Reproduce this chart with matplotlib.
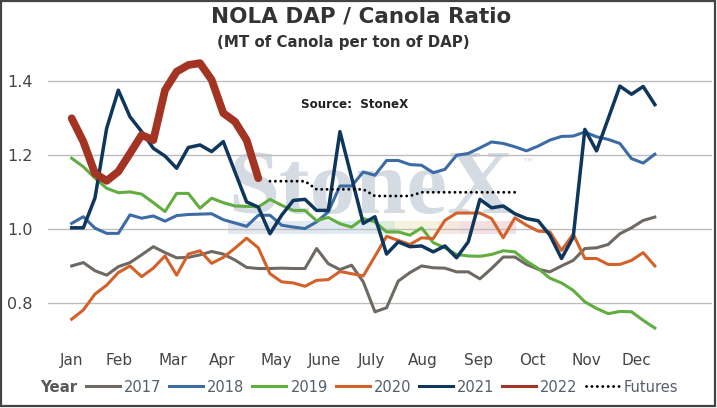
import numpy as np
import matplotlib
matplotlib.use("Agg")
import matplotlib.pyplot as plt
from matplotlib.patches import Rectangle
from matplotlib.lines import Line2D

# ---------------- data ----------------
weeks = np.arange(51)
months = ["Jan", "Feb", "Mar", "Apr", "May", "June", "July", "Aug", "Sep", "Oct", "Nov", "Dec"]
month_pos = [0, 4.08, 8.72, 12.87, 17.58, 21.64, 25.7, 30.13, 34.9, 39.54, 44.1, 48.4]

y2017 = [0.901, 0.910, 0.888, 0.876, 0.899, 0.910, 0.931, 0.953, 0.937, 0.923, 0.924, 0.931, 0.940,
         0.933, 0.917, 0.897, 0.894, 0.894, 0.895, 0.894, 0.894, 0.948, 0.907, 0.891, 0.903, 0.858,
         0.777, 0.788, 0.860, 0.883, 0.901, 0.896, 0.895, 0.885, 0.885, 0.866, 0.894, 0.925, 0.925,
         0.905, 0.892, 0.885, 0.901, 0.916, 0.948, 0.950, 0.959, 0.988, 1.004, 1.024, 1.033]
y2018 = [1.016, 1.034, 1.003, 0.989, 0.989, 1.039, 1.030, 1.036, 1.022, 1.037, 1.040, 1.041, 1.042,
         1.026, 1.017, 1.008, 1.038, 1.038, 1.011, 1.006, 1.002, 1.020, 1.047, 1.117, 1.117, 1.155,
         1.146, 1.186, 1.186, 1.175, 1.173, 1.153, 1.162, 1.200, 1.205, 1.220, 1.236, 1.232, 1.223,
         1.212, 1.225, 1.241, 1.251, 1.252, 1.263, 1.250, 1.243, 1.232, 1.191, 1.179, 1.203]
y2019 = [1.192, 1.169, 1.138, 1.111, 1.099, 1.101, 1.095, 1.072, 1.048, 1.097, 1.097, 1.057, 1.084,
         1.072, 1.063, 1.062, 1.060, 1.081, 1.065, 1.051, 1.051, 1.023, 1.032, 1.015, 1.006, 1.029,
         1.020, 0.993, 0.993, 0.984, 1.004, 0.964, 0.950, 0.932, 0.928, 0.927, 0.932, 0.942, 0.939,
         0.914, 0.894, 0.868, 0.855, 0.835, 0.804, 0.786, 0.772, 0.778, 0.777, 0.754, 0.733]
y2020 = [0.757, 0.782, 0.825, 0.849, 0.883, 0.901, 0.872, 0.895, 0.928, 0.876, 0.933, 0.942, 0.908,
         0.924, 0.949, 0.976, 0.950, 0.880, 0.858, 0.855, 0.846, 0.862, 0.864, 0.886, 0.880, 0.874,
         0.927, 0.981, 0.970, 0.959, 0.977, 0.975, 1.024, 1.044, 1.044, 1.044, 1.029, 0.977, 1.031,
         1.011, 0.995, 0.993, 0.943, 0.987, 0.921, 0.921, 0.905, 0.905, 0.916, 0.937, 0.901]
y2021 = [1.004, 1.004, 1.085, 1.273, 1.376, 1.304, 1.264, 1.219, 1.198, 1.165, 1.221, 1.228, 1.210,
         1.237, 1.155, 1.074, 1.060, 0.988, 1.038, 1.078, 1.081, 1.051, 1.051, 1.264, 1.140, 1.016,
         1.034, 0.933, 0.966, 0.953, 0.955, 0.939, 0.955, 0.923, 0.966, 1.081, 1.058, 1.063, 1.042,
         1.029, 1.023, 0.984, 0.921, 0.979, 1.270, 1.212, 1.299, 1.387, 1.365, 1.386, 1.337]
y2022 = [1.300, 1.237, 1.151, 1.131, 1.156, 1.205, 1.255, 1.241, 1.376, 1.426, 1.444, 1.449, 1.404,
         1.314, 1.291, 1.241, 1.138]
futures_start = 17
futures = [1.130, 1.130, 1.130, 1.130, 1.108, 1.108, 1.108, 1.108, 1.108, 1.090, 1.090, 1.090,
           1.090, 1.100, 1.100, 1.100, 1.100, 1.100, 1.100, 1.100, 1.100, 1.100]
yticks = [0.8, 1.0, 1.2, 1.4]

# ---------------- figure ----------------
W, H = 717, 408
fig = plt.figure(figsize=(W / 100, H / 100), dpi=100)
ax = fig.add_axes([48 / W, 1 - 340.3 / H, (712 - 48) / W, (340.3 - 44.3) / H])
ax.set_xlim(-2.03, 54.9)
ax.set_ylim(0.7, 1.5)
for s in ax.spines.values():
    s.set_visible(False)

for yv in yticks:
    ax.axhline(yv, color="#bdbdbd", lw=1.0, zorder=1)

# watermark
tf = fig.transFigure
ax.text(228 / W, 1 - 213 / H, "StoneX", transform=tf, fontsize=66, family="Liberation Serif",
        fontweight="bold", color="#d5dbe3", ha="left", va="baseline", zorder=0.5)
ax.text(521 / W, 1 - 164 / H, "\u2122", transform=tf, fontsize=9, color="#d5dbe3",
        ha="left", va="center", zorder=0.5)
strip = [(228, 330, "#e3e9f0"), (330, 375, "#e0ecf4"), (375, 395, "#deebdd"),
         (395, 438, "#f5f3de"), (438, 460, "#f7e8de"), (460, 516, "#f4dfe2")]
for x0, x1, c in strip:
    ax.add_patch(Rectangle((x0 / W, 1 - 234 / H), (x1 - x0) / W, 13 / H, transform=tf,
                           facecolor=c, edgecolor="none", zorder=0.4))

c2017, c2018, c2019, c2020, c2021, c2022 = "#6f6963", "#3c6ca3", "#62ad40", "#d2622a", "#0f365c", "#a33424"
ax.plot(weeks, y2017, color=c2017, lw=2.2, zorder=3, solid_joinstyle="round")
ax.plot(weeks, y2018, color=c2018, lw=2.2, zorder=3, solid_joinstyle="round")
ax.plot(weeks, y2019, color=c2019, lw=2.2, zorder=3, solid_joinstyle="round")
ax.plot(weeks, y2020, color=c2020, lw=2.2, zorder=3, solid_joinstyle="round")
ax.plot(weeks, y2021, color=c2021, lw=2.5, zorder=4, solid_joinstyle="round")
ax.plot(weeks[:len(y2022)], y2022, color=c2022, lw=5.6, zorder=5,
        solid_joinstyle="round", solid_capstyle="round")
fw = weeks[futures_start:futures_start + len(futures)]
ax.plot(fw, futures, color="black", lw=2.1, linestyle=(0, (0.01, 1.85)),
        dash_capstyle="round", zorder=4)

ax.set_yticks(yticks)
ax.set_yticklabels([f"{v:.1f}" for v in yticks], fontsize=11.5, color="#454545")
ax.set_xticks(month_pos)
ax.set_xticklabels(months, fontsize=11, color="#454545")
ax.tick_params(axis="both", length=0)
ax.tick_params(axis="y", pad=11)
ax.tick_params(axis="x", pad=9)

fig.text(361 / W, 1 - 16 / H, "NOLA DAP / Canola Ratio", fontsize=15.5, fontweight="bold",
         color="#333333", ha="center", va="center")
fig.text(343 / W, 1 - 43 / H, "(MT of Canola per ton of DAP)", fontsize=10.8, fontweight="bold",
         color="#333333", ha="center", va="center")
fig.text(301 / W, 1 - 104 / H, "Source:  StoneX", fontsize=8.6, fontweight="bold",
         color="#222222", ha="left", va="center")

# legend
fig.text(40 / W, 1 - 387 / H, "Year", fontsize=10.8, fontweight="bold", color="#595959",
         ha="left", va="center")
handles = [Line2D([], [], color=c, lw=2.2) for c in (c2017, c2018, c2019, c2020, c2021, c2022)]
handles.append(Line2D([], [], color="black", lw=2.1, linestyle=(0, (0.01, 1.85)), dash_capstyle="round"))
labels = ["2017", "2018", "2019", "2020", "2021", "2022", "Futures"]
leg = fig.legend(handles, labels, loc="center left", bbox_to_anchor=(86 / W, 1 - 387 / H),
                 ncol=7, frameon=False, fontsize=10.5, handlelength=2.33, handletextpad=0.27,
                 columnspacing=0.55, borderpad=0, borderaxespad=0)
for t in leg.get_texts():
    t.set_color("#555e6b")

# border
fig.patches.append(Rectangle((1 / W, 2.5 / H), 713.5 / W, 404.5 / H, transform=tf,
                             facecolor="none", edgecolor="#444444", lw=1.6))

fig.savefig("out.png", dpi=100)
